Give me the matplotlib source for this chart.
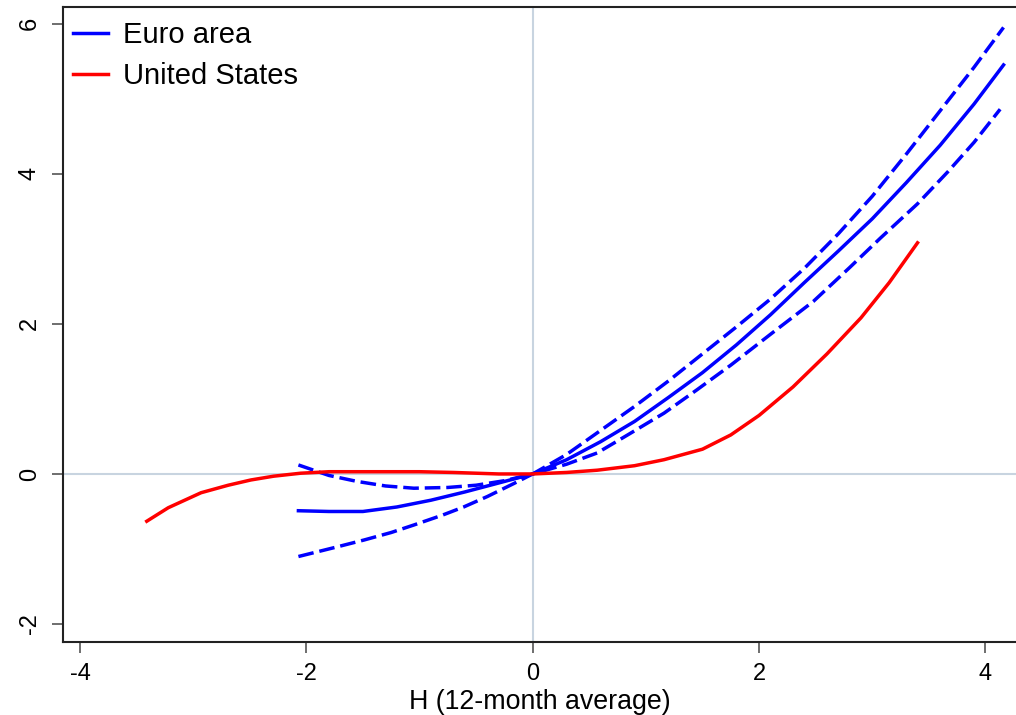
"""Nonlinear response to H: euro area vs United States"""
import matplotlib
matplotlib.use("Agg")
from matplotlib import pyplot as plt

plt.rcParams['font.family'] = ['Liberation Sans', 'DejaVu Sans']

# euro area: point estimate
ea_x = [-2.07, -1.8, -1.5, -1.2, -0.9, -0.6, -0.3, 0.0, 0.3, 0.6, 0.9, 1.2, 1.5,
        1.8, 2.1, 2.4, 2.7, 3.0, 3.3, 3.6, 3.9, 4.16]
ea_mid = [-0.49, -0.5, -0.5, -0.44, -0.35, -0.24, -0.12, 0.0, 0.19, 0.43, 0.7, 1.02, 1.35,
          1.72, 2.12, 2.55, 2.97, 3.4, 3.88, 4.38, 4.93, 5.45]

# euro area: upper band
ea_hi_x = [-2.07, -1.8, -1.55, -1.3, -1.05, -0.75, -0.5, -0.25, 0.0, 0.3, 0.6, 0.9, 1.2,
           1.5, 1.8, 2.1, 2.4, 2.7, 3.0, 3.3, 3.6, 3.9, 4.16]
ea_hi = [0.12, -0.02, -0.1, -0.16, -0.19, -0.18, -0.15, -0.09, 0.0, 0.26, 0.58, 0.9, 1.24,
         1.6, 1.96, 2.33, 2.74, 3.2, 3.7, 4.26, 4.84, 5.42, 5.95]

# euro area: lower band
ea_lo_x = [-2.07, -1.75, -1.49, -1.25, -1.05, -0.8, -0.61, -0.4, -0.17, 0.0, 0.3, 0.57,
           0.85, 1.16, 1.45, 1.75, 2.1, 2.48, 2.8, 3.07, 3.4, 3.67, 3.9, 4.13]
ea_lo = [-1.1, -0.98, -0.88, -0.78, -0.68, -0.55, -0.44, -0.3, -0.13, 0.0, 0.13, 0.28,
         0.53, 0.81, 1.12, 1.45, 1.86, 2.3, 2.75, 3.14, 3.6, 4.03, 4.42, 4.86]

# united states
us_x = [-3.41, -3.22, -2.93, -2.69, -2.49, -2.29, -2.05, -1.8, -1.5, -1.0, -0.7, -0.3,
        0.0, 0.3, 0.57, 0.9, 1.16, 1.5, 1.75, 2.0, 2.3, 2.6, 2.9, 3.15, 3.4]
us_y = [-0.63, -0.45, -0.25, -0.15, -0.08, -0.03, 0.01, 0.03, 0.03, 0.03, 0.02, 0.0,
        0.0, 0.02, 0.05, 0.11, 0.19, 0.33, 0.52, 0.78, 1.16, 1.6, 2.08, 2.55, 3.08]

xticks = [-4, -2, 0, 2, 4]
yticks = [-2, 0, 2, 4, 6]

fig = plt.figure(figsize=(10.16, 7.15), dpi=100)
ax = fig.add_axes([0.062, 0.102, 0.938, 0.888])

# reference lines
ax.axhline(0, color='#c8d4e0', lw=1.5, zorder=1)
ax.axvline(0, color='#c8d4e0', lw=1.5, zorder=1)

dash = (0, (4.5, 1.7))
ax.plot(ea_x, ea_mid, color='#0000ff', lw=2.5, label='Euro area')
ax.plot(ea_hi_x, ea_hi, color='#0000ff', lw=2.5, ls=dash)
ax.plot(ea_lo_x, ea_lo, color='#0000ff', lw=2.5, ls=dash)
ax.plot(us_x, us_y, color='#ff0000', lw=2.5, label='United States')

ax.set_xlim(-4.15, 4.27)
ax.set_ylim(-2.24, 6.22)
ax.set_xticks(xticks)
ax.set_yticks(yticks)
ax.set_xticklabels([str(t) for t in xticks], fontsize=17)
ax.set_yticklabels([str(t) for t in yticks], fontsize=17, rotation=90, va='center')
ax.tick_params(direction='out', length=8, width=1.2, color='#555555')
ax.tick_params(axis='x', pad=7)
ax.tick_params(axis='y', pad=8)

for s in ['left', 'bottom', 'top']:
    ax.spines[s].set_linewidth(1.5)
    ax.spines[s].set_color('#222222')
ax.spines['right'].set_visible(False)

ax.set_xlabel('H (12-month average)', fontsize=19.3, labelpad=3)

ax.legend(loc='upper left', frameon=False, fontsize=21, handlelength=1.2,
          handletextpad=0.5, labelspacing=0.45, borderaxespad=0, borderpad=0.35,
          bbox_to_anchor=(0.0, 0.9937))

fig.savefig('out.png', dpi=100)
